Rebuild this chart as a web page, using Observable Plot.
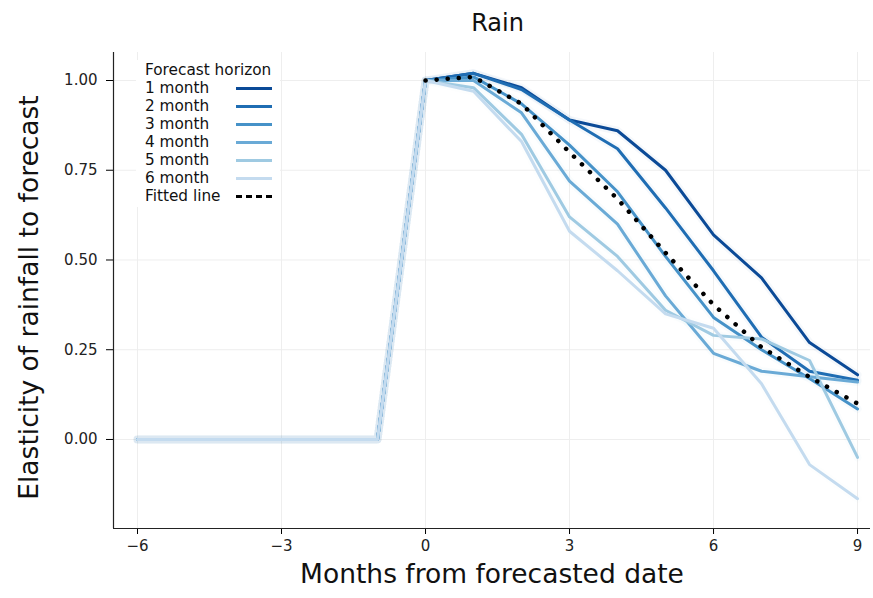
<!DOCTYPE html>
<html><head><meta charset="utf-8">
<script src="https://cdn.jsdelivr.net/npm/d3@7"></script>
<script src="https://cdn.jsdelivr.net/npm/@observablehq/plot@0.6"></script>
<style>
body{margin:0;background:#fff;font-family:"DejaVu Sans",sans-serif;}
#wrap{position:relative;width:873px;height:598px;overflow:hidden;background:#fff}
#title{height:40px;line-height:46px;text-align:center;font-size:24px;color:#111;padding-left:122px;box-sizing:border-box;width:873px}
#legend{position:absolute;left:136px;top:60px;background:#fff;padding:1px 8px 2px 9px;font-size:15.3px;color:#111;line-height:18px;white-space:nowrap}
#legend .row{display:flex;align-items:center;justify-content:space-between;height:18px;width:127px}
#legend .sw{width:36px;height:0}
svg text{font-family:"DejaVu Sans",sans-serif}
</style></head>
<body><div id="wrap"><div id="title">Rain</div><div id="legend"></div></div>
<script>
const months = [-6, -5, -4, -3, -2, -1, 0, 1, 2, 3, 4, 5, 6, 7, 8, 9];
const horizons = ["1 month", "2 month", "3 month", "4 month", "5 month", "6 month"];
const colors = ["#0b4a97", "#1f6db3", "#4692c8", "#6aaad6", "#9fcae2", "#c4dbef"];
const h1 = [0, 0, 0, 0, 0, 0, 1, 1.02, 0.98, 0.89, 0.86, 0.75, 0.57, 0.45, 0.27, 0.18];
const h2 = [0, 0, 0, 0, 0, 0, 1, 1.02, 0.975, 0.89, 0.81, 0.645, 0.47, 0.285, 0.19, 0.165];
const h3 = [0, 0, 0, 0, 0, 0, 1, 1.01, 0.935, 0.82, 0.69, 0.51, 0.34, 0.25, 0.17, 0.085];
const h4 = [0, 0, 0, 0, 0, 0, 1, 1.0, 0.91, 0.72, 0.60, 0.40, 0.24, 0.19, 0.175, 0.16];
const h5 = [0, 0, 0, 0, 0, 0, 1, 0.98, 0.85, 0.62, 0.51, 0.36, 0.29, 0.28, 0.22, -0.05];
const h6 = [0, 0, 0, 0, 0, 0, 1, 0.97, 0.83, 0.58, 0.47, 0.35, 0.31, 0.155, -0.07, -0.165];
const fitMonths = [0, 1, 2, 3, 4, 5, 6, 7, 8, 9];
const fitted = [1.0, 1.01, 0.935, 0.80, 0.67, 0.52, 0.375, 0.257, 0.174, 0.10];
const xTicks = [-6, -3, 0, 3, 6, 9];
const yTicks = [0, 0.25, 0.5, 0.75, 1.0];

const series = [h1, h2, h3, h4, h5, h6];
const rows = [];
series.forEach((s, i) => s.forEach((v, j) => rows.push({h: horizons[i], m: months[j], v})));
const fitRows = fitMonths.map((m, i) => ({m, v: fitted[i]}));

const xDom = [-6.5, 9.27], yDom = [-0.248, 1.078];
const fx = d3.format("d"), fy = d3.format(".2f");
const chart = Plot.plot({
  width: 873, height: 558,
  marginLeft: 113, marginRight: 3, marginTop: 12, marginBottom: 70,
  x: {domain: xDom, ticks: xTicks},
  y: {domain: yDom, ticks: yTicks},
  color: {domain: horizons, range: colors},
  marks: [
    Plot.gridX(xTicks, {stroke: "#eeeeee", strokeOpacity: 1}),
    Plot.gridY(yTicks, {stroke: "#eeeeee", strokeOpacity: 1}),
    Plot.axisX(xTicks, {tickSize: 6, label: null, tickFormat: () => ""}),
    Plot.axisY(yTicks, {tickSize: 7, label: null, tickFormat: () => ""}),
    Plot.text(xTicks, {x: d => d, frameAnchor: "bottom", dy: 12, lineAnchor: "top", text: d => fx(d), fontSize: 15, fill: "#222"}),
    Plot.text(yTicks, {y: d => d, frameAnchor: "left", dx: -16, textAnchor: "end", text: d => fy(d), fontSize: 15, fill: "#222"}),
    Plot.ruleX([xDom[0]], {stroke: "#222", strokeWidth: 1.2}),
    Plot.ruleY([yDom[0]], {stroke: "#222", strokeWidth: 1.2}),
    Plot.line(rows, {x: "m", y: "v", z: "h", stroke: "h", strokeWidth: 8, strokeOpacity: 0.04}),
    Plot.line(rows, {x: "m", y: "v", z: "h", stroke: "h", strokeWidth: 3}),
    Plot.line(fitRows, {x: "m", y: "v", stroke: "#000", strokeWidth: 4.5, strokeDasharray: "0.1 11", strokeLinecap: "round"}),
    Plot.text(["Months from forecasted date"], {frameAnchor: "bottom", dy: 54, fontSize: 26.5, fill: "#111"}),
    Plot.text(["Elasticity of rainfall to forecast"], {frameAnchor: "left", dx: -84, dy: 7, rotate: -90, textAnchor: "middle", fontSize: 26.5, fill: "#111"})
  ]
});
document.getElementById("wrap").appendChild(chart);

const leg = document.getElementById("legend");
let html = '<div class="row"><span>Forecast horizon</span></div>';
horizons.forEach((h, i) => {
  html += `<div class="row"><span>${h}</span><span class="sw" style="border-top:3px solid ${colors[i]}"></span></div>`;
});
html += '<div class="row"><span>Fitted line</span><span class="sw" style="border-top:3px dashed #000"></span></div>';
leg.innerHTML = html;
</script>
</body></html>
